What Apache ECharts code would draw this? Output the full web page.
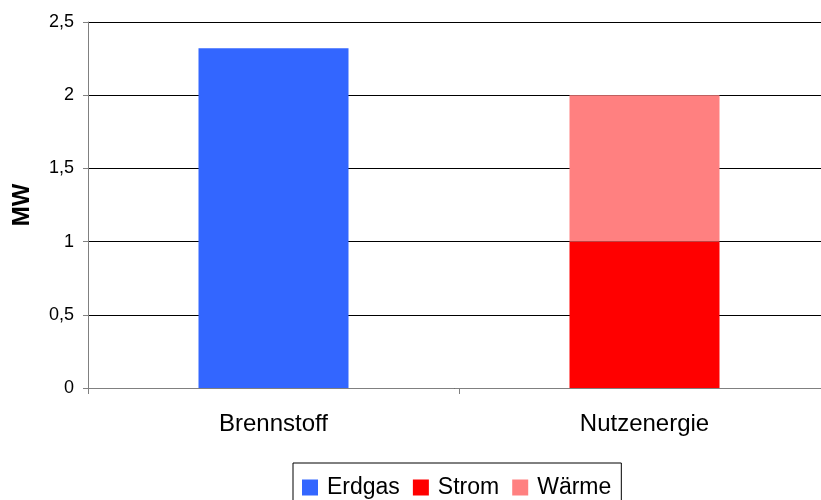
<!DOCTYPE html>
<html>
<head>
<meta charset="utf-8">
<script src="https://cdn.jsdelivr.net/npm/echarts@6/dist/echarts.min.js"></script>
<style>
  html, body { margin: 0; padding: 0; background: #fff; }
  #chart { width: 821px; height: 500px; }
</style>
</head>
<body>
<div id="chart"></div>
<script>
  // Kategorien und Werte (MW)
  var categories = ['Brennstoff', 'Nutzenergie'];
  var erdgas = [2.32, 0];
  var strom = [0, 1];
  var waerme = [0, 1];
  var yTicks = [0, 0.5, 1, 1.5, 2, 2.5];

  var font = 'Liberation Sans, Arial, sans-serif';
  var myChart = echarts.init(document.getElementById('chart'));

  function fmt(v) {
    return String(v).replace('.', ',');
  }

  var option = {
    animation: false,
    textStyle: { fontFamily: font },
    // Plotfläche läuft rechts über den Bildrand hinaus
    grid: { left: 88, top: 22, width: 742, bottom: 112, containLabel: false, outerBoundsMode: 'none' },
    legend: {
      left: 293,
      top: 463,
      orient: 'horizontal',
      borderColor: '#000',
      borderWidth: 1,
      borderRadius: 0,
      padding: [13, 10, 13, 9],
      itemGap: 13,
      itemWidth: 16,
      itemHeight: 16,
      icon: 'rect',
      textStyle: { fontFamily: font, fontSize: 23, color: '#000', padding: [0, 0, 0, 4] },
      data: ['Erdgas', 'Strom', 'Wärme']
    },
    xAxis: {
      type: 'category',
      data: categories,
      axisLine: { lineStyle: { color: '#808080', width: 1 } },
      axisTick: { show: true, length: 6, alignWithLabel: false, lineStyle: { color: '#808080' } },
      axisLabel: { fontFamily: font, fontSize: 24, color: '#000', margin: 24 }
    },
    yAxis: {
      type: 'value',
      min: yTicks[0],
      max: yTicks[yTicks.length - 1],
      interval: 0.5,
      name: 'MW',
      nameLocation: 'middle',
      nameGap: 54,
      nameRotate: 90,
      nameTextStyle: { fontFamily: font, fontSize: 24, fontWeight: 'bold', color: '#000' },
      axisLine: { show: true, lineStyle: { color: '#808080', width: 1 } },
      axisTick: { show: true, length: 5, lineStyle: { color: '#808080' } },
      axisLabel: { fontFamily: font, fontSize: 18, color: '#000', margin: 14, formatter: fmt },
      splitLine: { show: true, lineStyle: { color: '#000', width: 1 } }
    },
    series: [
      {
        name: 'Erdgas',
        type: 'bar',
        stack: 'mw',
        barWidth: 150,
        data: erdgas,
        itemStyle: { color: '#3366FF' }
      },
      {
        name: 'Strom',
        type: 'bar',
        stack: 'mw',
        barWidth: 150,
        data: strom,
        itemStyle: { color: '#FF0000' }
      },
      {
        name: 'Wärme',
        type: 'bar',
        stack: 'mw',
        barWidth: 150,
        data: waerme,
        itemStyle: { color: '#FF8080' }
      }
    ]
  };
  option && myChart.setOption(option);
</script>
</body>
</html>
